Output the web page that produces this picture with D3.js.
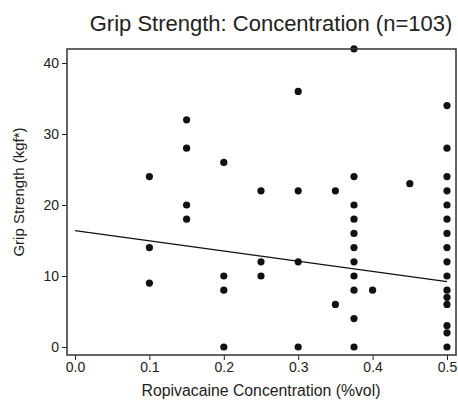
<!DOCTYPE html>
<html>
<head>
<meta charset="utf-8">
<script src="https://cdn.jsdelivr.net/npm/d3@7"></script>
<style>
  html, body { margin: 0; padding: 0; background: #fff; }
  svg { display: block; font-family: "Liberation Sans", Arial, Helvetica, sans-serif; }
</style>
</head>
<body>
<svg id="chart" width="458" height="400"></svg>
<script>
// ---- data ----
const concentration = [
  0.1, 0.1, 0.1,
  0.15, 0.15, 0.15, 0.15,
  0.2, 0.2, 0.2, 0.2,
  0.25, 0.25, 0.25,
  0.3, 0.3, 0.3, 0.3,
  0.35, 0.35,
  0.375, 0.375, 0.375, 0.375, 0.375, 0.375, 0.375, 0.375, 0.375, 0.375, 0.375,
  0.4,
  0.45,
  0.5, 0.5, 0.5, 0.5, 0.5, 0.5, 0.5, 0.5, 0.5, 0.5, 0.5, 0.5, 0.5, 0.5, 0.5, 0.5
];
const gripStrength = [
  24, 14, 9,
  32, 28, 20, 18,
  26, 10, 8, 0,
  22, 12, 10,
  36, 22, 12, 0,
  22, 6,
  42, 24, 20, 18, 16, 14, 12, 10, 8, 4, 0,
  8,
  23,
  34, 28, 24, 22, 20, 18, 16, 14, 12, 10, 8, 7, 6, 3, 2, 0
];
const fitLine = { intercept: 16.4, slope: -14.4 };   // fitted line as drawn
const fitRange = [0, 0.5];
const xTicks = [0, 0.1, 0.2, 0.3, 0.4, 0.5];
const yTicks = [0, 10, 20, 30, 40];
const titleText = "Grip Strength: Concentration (n=103)";
const xLabel = "Ropivacaine Concentration (%vol)";
const yLabel = "Grip Strength (kgf*)";

// ---- layout ----
const svg = d3.select("#chart");
const box = { left: 67, right: 456, top: 49, bottom: 355 };
const x = d3.scaleLinear().domain([0, 0.5]).range([75, 447]);
const y = d3.scaleLinear().domain([0, 40]).range([347, 63]);
const ink = "#222";

// title
svg.append("text")
  .attr("x", 271)
  .attr("y", 31)
  .attr("text-anchor", "middle")
  .attr("font-size", 22)
  .attr("fill", ink)
  .text(titleText);

// x axis
const xAxis = d3.axisBottom(x).tickValues(xTicks).tickFormat(d3.format(".1f"))
  .tickSize(5).tickPadding(2);
const gx = svg.append("g").attr("transform", `translate(0,${box.bottom})`).call(xAxis);
gx.select(".domain").remove();
gx.selectAll("line").attr("stroke", ink).attr("stroke-width", 1);
gx.selectAll("text").attr("font-size", 14).attr("fill", ink)
  .attr("font-family", "Liberation Sans, Arial, sans-serif");

// y axis
const yAxis = d3.axisLeft(y).tickValues(yTicks).tickFormat(d3.format("d"))
  .tickSize(5).tickPadding(3);
const gy = svg.append("g").attr("transform", `translate(${box.left},0)`).call(yAxis);
gy.select(".domain").remove();
gy.selectAll("line").attr("stroke", ink).attr("stroke-width", 1);
gy.selectAll("text").attr("font-size", 14).attr("fill", ink)
  .attr("font-family", "Liberation Sans, Arial, sans-serif");

// axis titles
svg.append("text")
  .attr("x", 261)
  .attr("y", 396)
  .attr("text-anchor", "middle")
  .attr("font-size", 15.8)
  .attr("fill", ink)
  .text(xLabel);

svg.append("text")
  .attr("transform", `translate(24,192) rotate(-90)`)
  .attr("text-anchor", "middle")
  .attr("font-size", 15)
  .attr("fill", ink)
  .text(yLabel);

// fitted line
svg.append("line")
  .attr("x1", x(fitRange[0])).attr("y1", y(fitLine.intercept + fitLine.slope * fitRange[0]))
  .attr("x2", x(fitRange[1])).attr("y2", y(fitLine.intercept + fitLine.slope * fitRange[1]))
  .attr("stroke", "#111").attr("stroke-width", 1.2);

// points
svg.append("g").selectAll("circle")
  .data(concentration.map((c, i) => ({ c, g: gripStrength[i] })))
  .join("circle")
  .attr("cx", d => x(d.c))
  .attr("cy", d => y(d.g))
  .attr("r", 3.6)
  .attr("fill", "#111");

// plot box
svg.append("rect")
  .attr("x", box.left).attr("y", box.top)
  .attr("width", box.right - box.left).attr("height", box.bottom - box.top)
  .attr("fill", "none").attr("stroke", "#333").attr("stroke-width", 1.5);
</script>
</body>
</html>
